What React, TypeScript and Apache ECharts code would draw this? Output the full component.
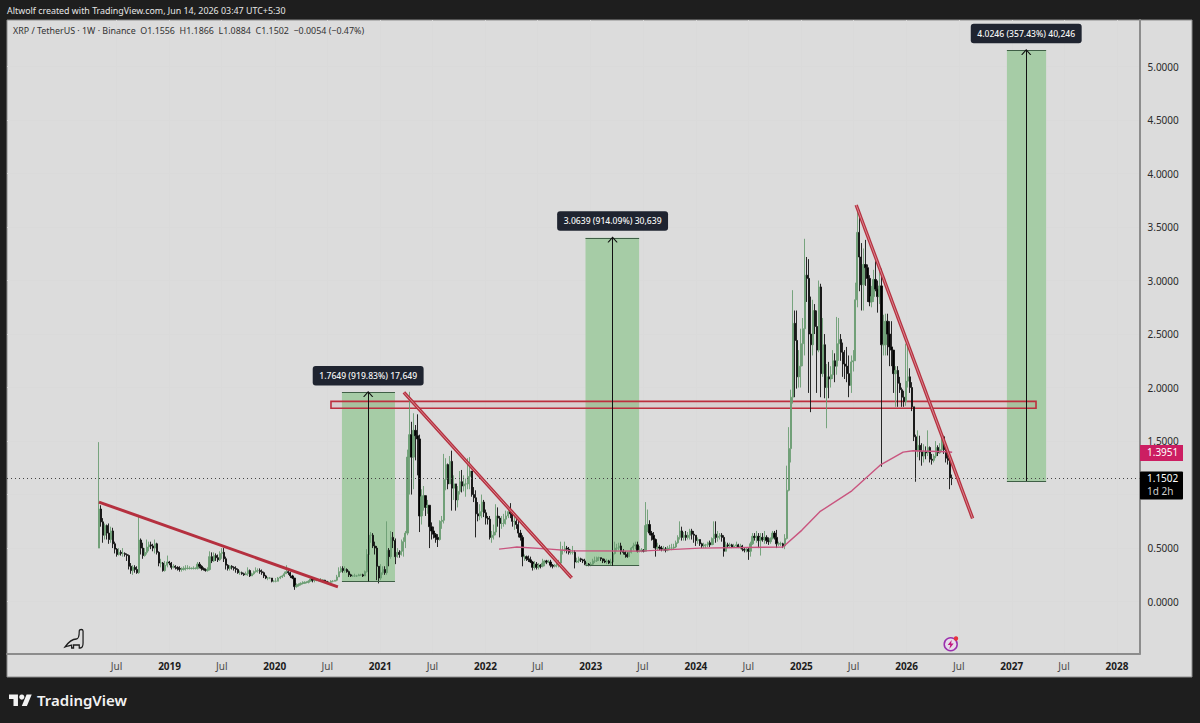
import React, { useEffect, useRef } from "react";
import * as echarts from "echarts";

type Candle = [number, number, number];

const firstOpen = 0.5;
// every candle: [close, low, high]; its open is the close before it
const start2018 = "2018-04-30";
const candles2018: Candle[] = [
  [.865,.50,1.49],[.745,.70,.90],[.62,.55,.78],[.71,.58,.73],[.64,.58,.72],[.58,.54,.73],[.66,.55,.70],[.54,.50,.69],[.49,.45,.56],
  [.44,.42,.50],[.46,.43,.50],[.45,.43,.48],[.45,.42,.50],[.44,.42,.46],[.43,.38,.45],[.33,.30,.44],[.29,.26,.36],[.32,.25,.34],
  [.30,.27,.34],[.27,.26,.33],[.575,.26,.81],[.50,.44,.59],[.43,.40,.55],[.46,.42,.50],[.51,.44,.58],[.53,.47,.56],[.52,.49,.56],
  [.50,.47,.54],[.54,.45,.58],[.46,.44,.55],[.36,.33,.47],[.36,.32,.40],[.29,.28,.37],[.34,.28,.38],[.37,.32,.43],[.36,.34,.38],
];
const start2019 = "2019-01-07";
const candles2019: Candle[] = [
  [.32,.30,.37],[.33,.31,.35],[.32,.30,.34],[.31,.29,.33],[.30,.28,.33],[.30,.28,.32],[.31,.29,.33],[.31,.29,.34],[.31,.30,.34],
  [.31,.30,.33],[.31,.30,.32],[.31,.30,.33],[.31,.30,.32],[.35,.30,.37],[.33,.31,.37],[.31,.29,.34],[.30,.29,.32],[.29,.28,.31],
  [.30,.28,.32],[.42,.29,.47],[.38,.36,.46],[.43,.37,.46],[.41,.38,.45],[.39,.37,.44],[.45,.38,.47],[.46,.40,.50],[.40,.37,.50],
  [.34,.30,.42],[.31,.29,.35],[.33,.29,.34],[.32,.30,.34],[.31,.29,.33],[.30,.27,.33],[.27,.26,.31],[.27,.25,.29],[.26,.25,.28],
  [.25,.24,.27],[.26,.25,.28],[.29,.24,.32],[.24,.23,.30],[.26,.24,.27],[.28,.25,.29],[.29,.27,.32],[.29,.27,.31],[.28,.26,.31],
  [.27,.25,.30],[.24,.22,.28],[.22,.21,.25],[.22,.20,.23],[.22,.21,.23],[.19,.18,.22],[.19,.18,.20],
];
const start2020 = "2020-01-06";
const candles2020: Candle[] = [
  [.19,.18,.22],[.22,.19,.23],[.23,.21,.24],[.24,.22,.25],[.26,.23,.28],[.28,.26,.34],[.27,.25,.31],[.24,.22,.28],[.22,.21,.25],
  [.14,.11,.22],[.15,.13,.17],[.16,.14,.17],[.17,.15,.18],[.17,.16,.19],[.18,.17,.19],[.18,.17,.19],[.19,.17,.20],[.21,.19,.23],
  [.20,.18,.21],[.20,.18,.21],[.20,.19,.21],[.20,.19,.21],[.20,.19,.22],[.20,.19,.21],[.19,.18,.20],[.18,.18,.19],[.18,.17,.19],
  [.19,.17,.20],[.19,.18,.20],[.20,.19,.20],[.23,.19,.25],[.28,.23,.32],[.31,.27,.33],[.29,.27,.33],[.30,.27,.33],[.28,.27,.31],
  [.25,.23,.29],[.24,.23,.26],[.24,.23,.25],[.24,.23,.26],[.24,.23,.25],[.25,.24,.26],[.25,.24,.26],[.24,.23,.26],[.28,.24,.29],
  [.44,.27,.49],[.62,.43,.78],[.62,.55,.65],[.52,.50,.64],[.50,.44,.56],[.33,.20,.52],[.22,.17,.32],
];
const start2021 = "2021-01-04";
const candles2021: Candle[] = [
  [.27,.20,.35],[.30,.25,.33],[.27,.25,.33],[.48,.25,.75],[.42,.33,.50],[.60,.40,.66],[.57,.50,.65],[.42,.35,.59],[.46,.41,.50],
  [.44,.41,.48],[.47,.43,.58],[.56,.42,.60],[.64,.50,.66],[1.35,.62,1.42],[1.56,1.0,1.96],[1.35,1.0,1.68],[1.60,1.05,1.76],
  [1.55,1.32,1.65],[1.52,1.18,1.75],[.80,.65,1.56],[.98,.72,1.05],[.99,.85,1.08],[.88,.80,.96],[.90,.82,.95],[.70,.50,.90],
  [.66,.58,.74],[.63,.59,.70],[.60,.55,.64],[.58,.51,.63],[.75,.57,.76],[.76,.68,.80],[1.14,.73,1.38],[1.28,1.04,1.34],
  [1.10,1.05,1.29],[1.31,1.10,1.36],[1.06,.85,1.41],[1.10,.95,1.18],[.95,.85,1.06],[1.03,.88,1.08],[1.12,1.0,1.22],[1.08,1.02,1.23],
  [1.10,1.03,1.18],[1.10,.98,1.15],[1.17,1.05,1.34],[1.22,1.05,1.35],[1.00,.98,1.22],[.97,.93,1.07],[.82,.60,1.04],[.80,.75,.93],
  [.84,.76,.91],[.93,.78,1.00],[.83,.79,.95],
];
const start2022 = "2022-01-03";
const candles2022: Candle[] = [
  [.78,.72,.86],[.77,.72,.80],[.60,.58,.80],[.62,.55,.66],[.65,.58,.72],[.80,.62,.91],[.78,.70,.88],[.73,.60,.80],[.73,.68,.80],
  [.77,.70,.82],[.80,.72,.85],[.84,.78,.88],[.82,.78,.92],[.75,.70,.85],[.75,.67,.79],[.72,.68,.77],[.64,.60,.76],[.60,.57,.67],
  [.42,.33,.62],[.42,.38,.44],[.40,.38,.43],[.39,.37,.43],[.37,.36,.42],[.32,.29,.38],[.35,.30,.38],[.32,.30,.37],[.34,.30,.36],
  [.33,.31,.35],[.36,.32,.40],[.38,.33,.39],[.37,.35,.39],[.37,.36,.39],[.34,.32,.39],[.33,.31,.35],[.34,.32,.35],[.35,.32,.37],
  [.36,.32,.39],[.48,.34,.56],[.48,.44,.52],[.50,.46,.56],[.49,.45,.52],[.46,.44,.51],[.46,.44,.49],[.46,.44,.52],[.37,.31,.48],
  [.38,.36,.41],[.40,.36,.42],[.39,.37,.41],[.38,.36,.40],[.35,.34,.40],[.35,.33,.37],[.34,.33,.36],
];
const start2023 = "2023-01-02";
const candles2023: Candle[] = [
  [.35,.33,.37],[.38,.34,.40],[.38,.36,.42],[.41,.37,.42],[.41,.38,.42],[.40,.38,.41],[.38,.36,.40],[.37,.36,.40],[.38,.35,.40],
  [.36,.35,.39],[.37,.34,.40],[.45,.36,.49],[.50,.44,.56],[.50,.47,.54],[.52,.48,.55],[.47,.44,.55],[.46,.44,.49],[.44,.41,.47],
  [.42,.41,.46],[.46,.42,.47],[.50,.45,.51],[.52,.48,.55],[.53,.49,.56],[.47,.46,.56],[.48,.46,.52],[.48,.46,.50],[.47,.46,.49],
  [.71,.47,.93],[.72,.65,.86],[.64,.62,.76],[.62,.57,.66],[.58,.50,.65],[.50,.42,.59],[.51,.48,.55],[.50,.48,.53],[.49,.47,.52],
  [.49,.47,.52],[.48,.46,.51],[.50,.47,.52],[.50,.48,.53],[.50,.48,.54],[.51,.49,.54],[.55,.50,.57],[.60,.54,.62],[.66,.58,.75],
  [.60,.57,.70],[.62,.57,.65],[.60,.57,.66],[.62,.58,.65],[.66,.58,.68],[.63,.58,.68],[.62,.55,.66],
];
const start2024 = "2024-01-01";
const candles2024: Candle[] = [
  [.57,.52,.62],[.58,.54,.60],[.54,.52,.58],[.52,.50,.55],[.53,.50,.55],[.53,.50,.54],[.55,.51,.56],[.53,.51,.57],[.59,.53,.60],
  [.63,.53,.75],[.60,.55,.75],[.61,.56,.66],[.62,.58,.64],[.60,.56,.64],[.47,.42,.62],[.53,.50,.56],[.52,.50,.55],[.53,.50,.55],
  [.51,.50,.54],[.52,.50,.54],[.53,.50,.56],[.51,.50,.54],[.52,.49,.54],[.49,.47,.53],[.48,.46,.50],[.49,.46,.50],[.47,.39,.50],
  [.54,.42,.56],[.61,.53,.64],[.60,.57,.64],[.61,.55,.66],[.57,.50,.64],[.60,.43,.64],[.58,.56,.64],[.60,.54,.66],[.57,.54,.62],
  [.56,.53,.60],[.59,.54,.60],[.64,.58,.66],[.60,.58,.66],[.54,.50,.67],[.54,.52,.56],[.54,.52,.56],[.52,.50,.55],[.59,.49,.63],
  [1.04,.58,1.27],[1.43,1.03,1.63],[1.91,1.30,1.98],[2.60,1.85,2.91],[2.44,1.91,2.72],[2.10,1.99,2.72],[2.20,2.0,2.35],[2.41,2.0,2.55],
];
const start2025 = "2025-01-06";
const candles2025: Candle[] = [
  [2.55,2.2,2.65],[3.05,2.3,3.39],[3.02,2.8,3.22],[2.50,1.95,3.2],[2.40,1.77,2.85],[2.72,2.30,2.82],[2.57,2.50,2.78],[2.35,1.95,2.72],
  [2.94,2.33,3.0],[2.13,1.91,2.97],[2.40,2.10,2.65],[2.00,1.90,2.50],[2.10,1.62,2.22],[2.08,1.90,2.24],[2.12,2.00,2.20],[2.25,2.08,2.35],
  [2.20,2.05,2.32],[2.41,2.12,2.66],[2.45,2.25,2.65],[2.33,2.25,2.50],[2.22,2.10,2.42],[2.20,2.08,2.35],[2.13,2.05,2.38],[2.02,1.91,2.30],
  [2.24,1.95,2.30],[2.25,2.15,2.35],[2.82,2.25,2.98],[3.45,2.75,3.69],[3.22,2.9,3.66],[2.96,2.72,3.35],[3.15,2.72,3.30],[3.12,2.95,3.38],
  [3.02,2.8,3.15],[2.80,2.76,3.05],[2.85,2.75,2.95],[3.01,2.8,3.1],[2.92,2.9,3.18],[2.85,2.7,3.0],[2.95,2.78,3.13],[2.40,1.26,3.11],
  [2.40,2.30,2.68],[2.62,2.3,2.69],[2.50,2.30,2.69],[2.38,2.2,2.62],[2.35,2.2,2.62],[2.13,1.95,2.35],[2.16,1.82,2.20],[2.04,1.82,2.20],
  [1.98,1.95,2.10],[1.91,1.82,2.0],[1.87,1.82,1.97],[2.06,1.83,2.41],
];
const start2026 = "2026-01-05";
const candles2026: Candle[] = [
  [2.10,2.0,2.41],[2.0,1.95,2.18],[1.82,1.78,2.05],[1.54,1.50,1.82],[1.41,1.12,1.56],[1.46,1.35,1.60],[1.40,1.32,1.55],[1.36,1.27,1.48],
  [1.40,1.30,1.47],[1.39,1.33,1.45],[1.44,1.36,1.60],[1.33,1.30,1.45],[1.32,1.28,1.38],[1.36,1.30,1.38],[1.44,1.34,1.50],[1.39,1.36,1.46],
  [1.42,1.38,1.48],[1.54,1.40,1.56],[1.42,1.38,1.55],[1.34,1.30,1.43],[1.32,1.28,1.40],[1.1556,1.05,1.34],[1.1502,1.0884,1.1866],
];

const candleBlocks: [string, Candle[]][] = [
  [start2018, candles2018], [start2019, candles2019], [start2020, candles2020], [start2021, candles2021], [start2022, candles2022],
  [start2023, candles2023], [start2024, candles2024], [start2025, candles2025], [start2026, candles2026],
];

const maDates = ["2022-02-17","2022-04-20","2022-08-13","2022-10-22","2023-06-22","2024-01-15","2024-10-29","2025-01-03","2025-01-31","2025-03-06","2025-06-25","2025-10-01","2025-12-20","2026-01-23","2026-05-21","2026-06-08"];
const maValues = [.49,.51,.49,.475,.472,.50,.51,.668,.746,.84,1.035,1.275,1.397,1.41,1.40,1.3951];

const trendSolid: [string, number, string, number] = ["2018-05-01", .93, "2020-08-07", .138];
const trendDouble: [string, number, string, number][] = [
  ["2021-03-24", 1.955, "2022-10-27", .222],
  ["2025-07-10", 3.706, "2026-08-18", .778],
];
const zone: [string, string, number, number] = ["2020-07-14", "2027-03-26", 1.806, 1.871];

// from, to, middle, low, high, label
const measures: [string, string, string, number, number, string][] = [
  ["2020-08-21", "2021-02-21", "2020-11-20", .19, 1.9549, "1.7649 (919.83%) 17,649"],
  ["2022-12-14", "2023-06-18", "2023-03-18", .335, 3.3989, "3.0639 (914.09%) 30,639"],
  ["2026-12-15", "2027-04-30", "2027-02-20", 1.1268, 5.1514, "4.0246 (357.43%) 40,246"],
];

const lastPrice = 1.1502;
const timeTicks: [string, string][] = [
  ["2018-07-01","Jul"],["2019-01-01","2019"],["2019-07-01","Jul"],["2020-01-01","2020"],["2020-07-01","Jul"],["2021-01-01","2021"],
  ["2021-07-01","Jul"],["2022-01-01","2022"],["2022-07-01","Jul"],["2023-01-01","2023"],["2023-07-01","Jul"],["2024-01-01","2024"],
  ["2024-07-01","Jul"],["2025-01-01","2025"],["2025-07-01","Jul"],["2026-01-01","2026"],["2026-07-01","Jul"],["2027-01-01","2027"],
  ["2027-07-01","Jul"],["2028-01-01","2028"],
];
const priceGrid = [0, .5, 1, 1.5, 2, 2.5, 3, 3.5, 4, 4.5, 5];
// 1.0000 lies under the last-price box in the reference, so it has no visible label
const priceLabels = [0, .5, 1.5, 2, 2.5, 3, 3.5, 4, 4.5, 5];
const axisFrom = "2017-06-16";
const axisTo = "2028-03-19";
const priceMin = -0.4897;
const priceMax = 5.4346;

const ms = (d: string) => Date.parse(d + "T00:00:00Z");
const WEEK = 7 * 864e5;

const FONT = "'Noto Sans', sans-serif";
const INK = "#2b2b2b";

function buildCandles() {
  const out: number[][] = [];
  let prev = firstOpen;
  for (const [start, list] of candleBlocks) {
    list.forEach((c, i) => {
      const [close, low, high] = c;
      out.push([ms(start) + i * WEEK, prev, close, Math.min(low, prev, close), Math.max(high, prev, close)]);
      prev = close;
    });
  }
  return out;
}

const tickLabel = new Map(timeTicks.map(([d, t]) => [ms(d), t]));

function buildOption() {
  const lineSeries = (pts: number[][], width: number, color: string, z: number) => ({
    type: "line", data: pts, symbol: "none", z, silent: true, clip: false, lineStyle: { width, color }, itemStyle: { color },
  });
  const series: any[] = [];
  measures.forEach(([from, to, mid, low, high, text]) => {
    series.push({
      type: "line", data: [], z: 1, silent: true,
      markArea: {
        silent: true,
        itemStyle: { color: "#a6cca6" },
        data: [[{ coord: [ms(from), low] }, { coord: [ms(to), high] }]],
      },
    });
    series.push({
      type: "line", data: [], z: 4, silent: true,
      markLine: {
        silent: true, symbol: "none", animation: false,
        label: { show: false },
        lineStyle: { color: "#3f5f46", width: 1.2, type: "solid" },
        data: [
          [{ coord: [ms(from), low] }, { coord: [ms(to), low] }],
          [{ coord: [ms(from), high] }, { coord: [ms(to), high] }],
          [{ coord: [ms(mid), low], lineStyle: { color: "#111", width: 1 } }, { coord: [ms(mid), high], lineStyle: { color: "#111", width: 1 } }],
        ],
      },
      markPoint: {
        silent: true,
        data: [
          {
            coord: [ms(mid), high], symbol: "path://M0 6 L5 0 L10 6", symbolSize: [9, 5], symbolOffset: [0, 2],
            itemStyle: { color: "none", borderColor: "#111", borderWidth: 1 }, label: { show: false },
          },
          {
            coord: [ms(mid), high], symbol: "circle", symbolSize: 0,
            label: {
              show: true, position: "top", distance: 7, formatter: text, color: "#f4f4f4", fontFamily: FONT, fontSize: 8.6, fontWeight: 500,
              backgroundColor: "#1f2430", borderRadius: 3, padding: [5.5, 6.5, 5, 6.5],
            },
          },
        ],
      },
    });
  });
  series.push({
    type: "candlestick", z: 3, silent: true, barWidth: 1.8, clip: true,
    encode: { x: 0, y: [1, 2, 3, 4] },
    data: buildCandles(),
    itemStyle: { color: "#6b9d73", color0: "#000", borderColor: "#6b9d73", borderColor0: "#111", borderWidth: 0.9 },
    markLine: {
      silent: true, symbol: "none", label: { show: false },
      lineStyle: { color: "#444", type: [1, 3], width: 1 },
      data: [{ yAxis: lastPrice }],
    },
  });
  series.push(lineSeries(maDates.map((d, i) => [ms(d), maValues[i]]), 1.4, "#c9557f", 5));
  series.push(lineSeries([[ms(trendSolid[0]), trendSolid[1]], [ms(trendSolid[2]), trendSolid[3]]], 3, "#b5303f", 6));
  trendDouble.forEach((t) => {
    const pts = [[ms(t[0]), t[1]], [ms(t[2]), t[3]]];
    series.push(lineSeries(pts, 3.4, "#b5303f", 6));
    series.push(lineSeries(pts, 0.9, "#dc8f98", 7));
  });
  series.push({
    type: "line", data: [], z: 6, silent: true,
    markArea: {
      silent: true,
      itemStyle: { color: "rgba(190,60,70,0.08)", borderColor: "#bd2f3e", borderWidth: 1.6 },
      data: [[{ coord: [ms(zone[0]), zone[2]] }, { coord: [ms(zone[1]), zone[3]] }]],
    },
  });

  return {
    animation: false,
    backgroundColor: "#1e1e1e",
    grid: { left: 7, right: 60.5, top: 20, bottom: 69 },
    xAxis: {
      type: "value", min: ms(axisFrom), max: ms(axisTo), scale: true,
      axisLine: { show: true, onZero: false, lineStyle: { color: "#8c8c8c", width: 2 } },
      axisTick: { show: false, customValues: timeTicks.map(([d]) => ms(d)) },
      splitLine: { show: true, lineStyle: { color: "#dadada", width: 1 } },
      axisLabel: {
        customValues: timeTicks.map(([d]) => ms(d)), margin: 7, fontFamily: FONT, fontSize: 10, color: "#4a4a4a", hideOverlap: false,
        formatter: (v: number) => { const t = tickLabel.get(v) || ""; return t === "Jul" ? t : `{y|${t}}`; },
        rich: { y: { fontFamily: FONT, fontSize: 10, fontWeight: "bold", color: "#1c1c1c" } },
      },
    },
    yAxis: {
      type: "value", position: "right", min: priceMin, max: priceMax, scale: true,
      axisLine: { show: true, onZero: false, lineStyle: { color: "#8c8c8c", width: 2 } },
      axisTick: { show: false, customValues: priceGrid },
      splitLine: { show: true, lineStyle: { color: "#dadada", width: 1 } },
      axisLabel: {
        customValues: priceLabels, margin: 8, fontFamily: FONT, fontSize: 10, color: INK, hideOverlap: false,
        formatter: (v: number) => v.toFixed(4),
      },
    },
    series,
    graphic: [
      { type: "rect", z: -10, silent: true, shape: { x: 7, y: 20, width: 1185, height: 657 }, style: { fill: "#dcdcdc", stroke: "#8c8c8c", lineWidth: 1 } },
      { type: "text", z: 100, x: 7, y: 6, silent: true, style: { text: "Altwolf created with TradingView.com, Jun 14, 2026 03:47 UTC+5:30", fill: "#e6e6e6", font: `8.9px ${FONT}` } },
      { type: "text", z: 100, x: 13, y: 26, silent: true, style: { text: "XRP / TetherUS · 1W · Binance  O1.1556  H1.1866  L1.0884  C1.1502  −0.0054 (−0.47%)", fill: "#333", font: `8.9px ${FONT}` } },
      { type: "rect", z: 100, silent: true, shape: { x: 1140, y: 445, width: 43, height: 16 }, style: { fill: "#cc1e62" } },
      { type: "text", z: 101, x: 1147, y: 447, silent: true, style: { text: "1.3951", fill: "#fff", font: `10px ${FONT}` } },
      { type: "rect", z: 100, silent: true, shape: { x: 1140, y: 471.5, width: 43, height: 28, r: 1 }, style: { fill: "#000" } },
      { type: "text", z: 101, x: 1147, y: 473, silent: true, style: { text: "1.1502", fill: "#fff", font: `10px ${FONT}` } },
      { type: "text", z: 101, x: 1147, y: 486, silent: true, style: { text: "1d 2h", fill: "#cfcfcf", font: `10px ${FONT}` } },
      { type: "dino", z: 100, silent: true, x: 65, y: 629, scaleX: 0.95, scaleY: 1, style: { fill: "none", stroke: "#1c1c1c", lineWidth: 1.3 } },
      { type: "circle", z: 100, silent: true, shape: { cx: 950.7, cy: 644.3, r: 6.5 }, style: { fill: "#e6dcea", stroke: "#9b2fae", lineWidth: 1.5 } },
      { type: "bolt", z: 101, silent: true, x: 947.7, y: 640, style: { fill: "#c2187f" } },
      { type: "circle", z: 101, silent: true, shape: { cx: 956, cy: 638.5, r: 2.2 }, style: { fill: "#e8323c" } },
      { type: "tvmark", z: 100, silent: true, x: 9, y: 692, scaleX: 0.64, scaleY: 0.64, style: { fill: "#f2f2f2" } },
      { type: "circle", z: 100, silent: true, shape: { cx: 21.8, cy: 697.1, r: 2.6 }, style: { fill: "#f2f2f2" } },
      { type: "text", z: 100, x: 37, y: 692, silent: true, style: { text: "TradingView", fill: "#f2f2f2", font: `600 15px ${FONT}` } },
    ],
  };
}

echarts.graphic.registerShape("dino", echarts.graphic.extendPath("M15 2 C15 0 19 0 19 2 L19 14 C19 18 18 19 16 19 L15 19 L15 16 L9 16 L9 19 L7 19 L7 16 L3 17 L0 18 C3 14 7 10 12 10 C14 10 15 8 15 2 Z", {}));
echarts.graphic.registerShape("bolt", echarts.graphic.extendPath("M4 0 L0 5 L2.6 5 L1.6 9 L6 3.6 L3.4 3.6 Z", {}));
echarts.graphic.registerShape("tvmark", echarts.graphic.extendPath("M14 22H7V11H0V4h14v18zM28 22h-8l7.5-18h8L28 22z", {}));

export default function App() {
  const ref = useRef<HTMLDivElement>(null);
  useEffect(() => {
    const chart = echarts.init(ref.current as HTMLDivElement, null, { renderer: "svg" });
    chart.setOption(buildOption() as any);
    return () => chart.dispose();
  }, []);
  return <div ref={ref} style={{ position: "absolute", left: 0, top: 0, width: 1200, height: 723 }} />;
}
